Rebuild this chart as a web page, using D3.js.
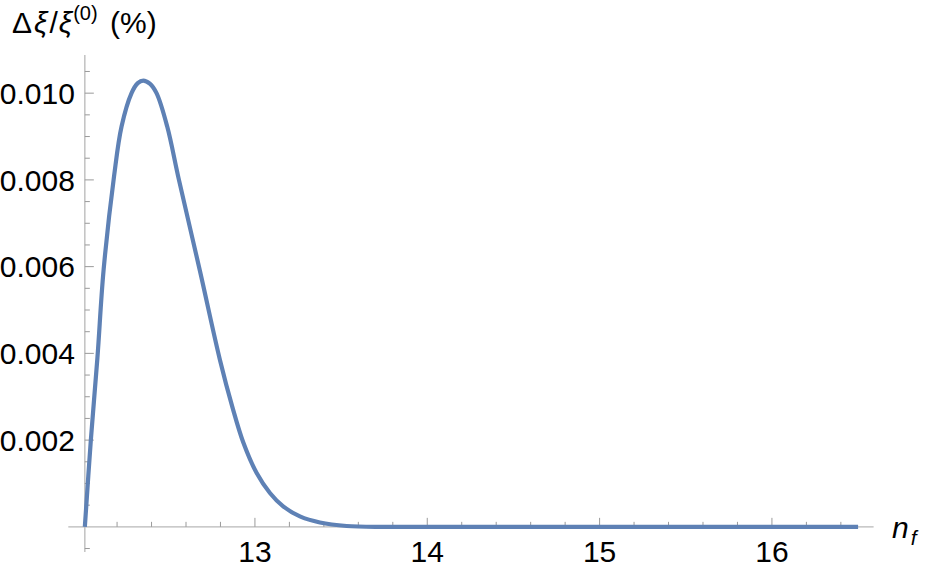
<!DOCTYPE html>
<html>
<head>
<meta charset="utf-8">
<script src="https://cdn.jsdelivr.net/npm/d3@7"></script>
<style>
  html, body { margin: 0; padding: 0; background: #fff; }
  svg { display: block; font-family: "Liberation Sans", Arial, sans-serif; }
</style>
</head>
<body>
<svg id="chart" width="926" height="572"></svg>
<script>
// ---- data ----
const nf  = [12.013, 12.048, 12.086, 12.122, 12.183, 12.226, 12.284, 12.320, 12.352, 12.390,
             12.429, 12.491, 12.559, 12.681, 12.797, 12.870, 12.932, 13.010,
             13.087, 13.164, 13.261, 13.377, 13.532, 13.75, 14.0, 15.0, 16.0, 16.5];
const dxi = [0, 0.00201, 0.00390, 0.00593, 0.00810, 0.00923, 0.01000, 0.01023, 0.01029, 0.01022,
             0.01000, 0.00923, 0.00800, 0.00590, 0.00385, 0.00275, 0.00195, 0.00124,
             0.00078, 0.00047, 0.00024, 0.00010, 0.00002, 0, 0, 0, 0, 0];
const xMajorTicks = [13, 14, 15, 16];
const xMinorTicks = [12.2, 12.4, 12.6, 12.8, 13.2, 13.4, 13.6, 13.8, 14.2, 14.4, 14.6, 14.8,
                     15.2, 15.4, 15.6, 15.8, 16.2, 16.4];
const yMajorTicks = [0.002, 0.004, 0.006, 0.008, 0.010];
const yMinorTicks = [-0.0005, 0.0005, 0.001, 0.0015, 0.0025, 0.003, 0.0035, 0.0045, 0.005, 0.0055,
                     0.0065, 0.007, 0.0075, 0.0085, 0.009, 0.0095, 0.0105];
const xDomain = [11.917, 16.59];
const yDomain = [-0.00058, 0.01088];
const xOrigin = 12.013;

// ---- layout ----
const svg = d3.select("#chart");
const x = d3.scaleLinear().domain(xDomain).range([68.3, 873.6]);
const y = d3.scaleLinear().domain(yDomain).range([552, 55]);
const axisCol = "#b8b8b8", tickCol = "#9a9a9a";
const fs = 30;

// axes lines
svg.append("line").attr("x1", x(xDomain[0])).attr("x2", x(xDomain[1]))
  .attr("y1", y(0)).attr("y2", y(0)).attr("stroke", axisCol).attr("stroke-width", 1.3);
svg.append("line").attr("x1", x(xOrigin)).attr("x2", x(xOrigin))
  .attr("y1", y(yDomain[0])).attr("y2", y(yDomain[1])).attr("stroke", axisCol).attr("stroke-width", 1.3);

// x ticks
svg.selectAll(".xmaj").data(xMajorTicks).enter().append("line")
  .attr("x1", d => x(d)).attr("x2", d => x(d)).attr("y1", y(0)).attr("y2", y(0) - 9)
  .attr("stroke", tickCol).attr("stroke-width", 1);
svg.selectAll(".xmin").data(xMinorTicks).enter().append("line")
  .attr("x1", d => x(d)).attr("x2", d => x(d)).attr("y1", y(0)).attr("y2", y(0) - 5)
  .attr("stroke", tickCol).attr("stroke-width", 1);
svg.selectAll(".xlab").data(xMajorTicks).enter().append("text")
  .attr("x", d => x(d)).attr("y", y(0) + 35).attr("text-anchor", "middle")
  .attr("font-size", fs).attr("fill", "#000").text(d => d3.format("d")(d));

// y ticks
svg.selectAll(".ymaj").data(yMajorTicks).enter().append("line")
  .attr("x1", x(xOrigin)).attr("x2", x(xOrigin) + 9).attr("y1", d => y(d)).attr("y2", d => y(d))
  .attr("stroke", tickCol).attr("stroke-width", 1);
svg.selectAll(".ymin").data(yMinorTicks).enter().append("line")
  .attr("x1", x(xOrigin)).attr("x2", x(xOrigin) + 5).attr("y1", d => y(d)).attr("y2", d => y(d))
  .attr("stroke", tickCol).attr("stroke-width", 1);
svg.selectAll(".ylab").data(yMajorTicks).enter().append("text")
  .attr("x", x(xOrigin) - 10).attr("y", d => y(d)).attr("dy", "0.36em").attr("text-anchor", "end")
  .attr("font-size", fs).attr("fill", "#000").text(d => d3.format(".3f")(d));

// curve
const pts = nf.map((v, i) => [v, dxi[i]]);
svg.append("path").datum(pts)
  .attr("d", d3.line().x(d => x(d[0])).y(d => y(d[1])).curve(d3.curveCatmullRom.alpha(0.5)))
  .attr("fill", "none").attr("stroke", "#5E81B5").attr("stroke-width", 4.2)
  .attr("stroke-linejoin", "round");

// y axis label
const yl = svg.append("text").attr("x", 12).attr("y", 33).attr("font-size", fs).attr("fill", "#000");
yl.append("tspan").text("Δ");
yl.append("tspan").attr("font-style", "italic").attr("dx", 2).text("ξ");
yl.append("tspan").attr("dx", 2).text("/");
yl.append("tspan").attr("font-style", "italic").attr("dx", 1).text("ξ");
yl.append("tspan").attr("font-size", 20).attr("dx", 1).attr("dy", -13).text("(0)");
yl.append("tspan").attr("dy", 13).attr("dx", 4).text(" (%)");

// x axis label
const xl = svg.append("text").attr("x", 892).attr("y", 538).attr("font-size", fs).attr("fill", "#000");
xl.append("tspan").attr("font-style", "italic").text("n");
xl.append("tspan").attr("font-style", "italic").attr("font-size", 21).attr("dx", 2).attr("dy", 7).text("f");
</script>
</body>
</html>
